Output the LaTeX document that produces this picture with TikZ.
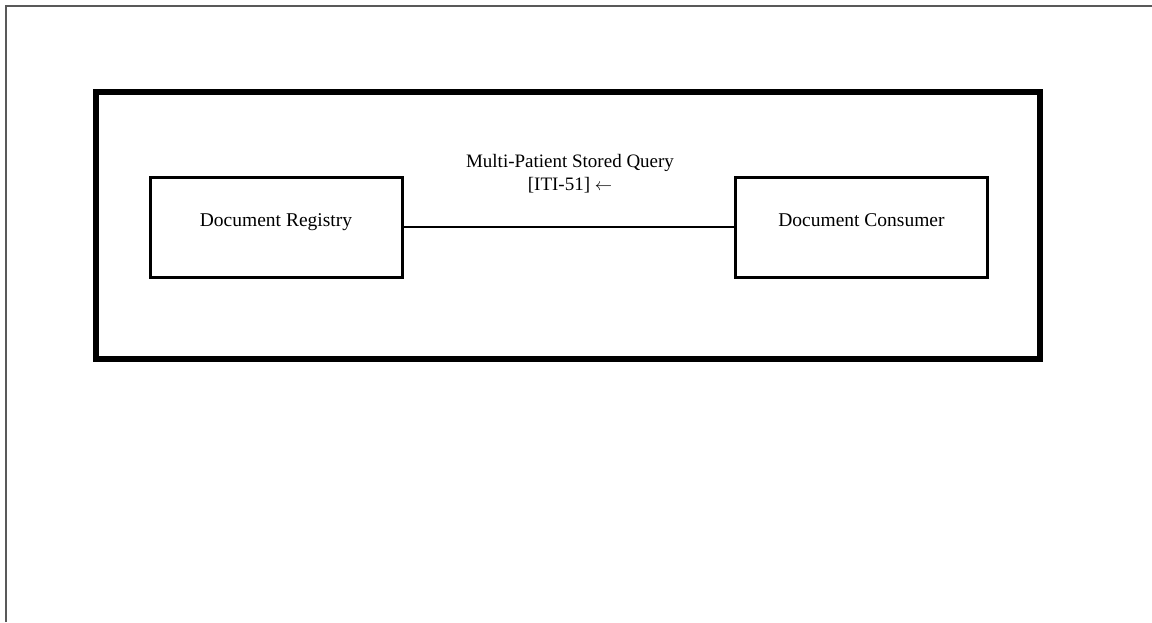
\documentclass[tikz,border=0pt]{standalone}
\usepackage{fontspec}
\setmainfont{Liberation Serif}
\begin{document}
\begin{tikzpicture}[x=1pt,y=-1pt,
  actor/.style={draw,line width=3pt,minimum width=252pt,minimum height=100pt,inner sep=0pt,text height=10pt,text depth=12pt,font=\fontsize{19.5}{23}\selectfont},
  frame/.style={draw,line width=5.5pt,inner sep=0pt},
  pageedge/.style={draw=black!65,line width=2pt},
  lbl/.style={align=center,font=\fontsize{19}{23}\selectfont}]
\useasboundingbox (0,0) rectangle (1152,622);
\coordinate (pt) at (5.5,5.5);
\coordinate (pr) at (1152,5.5);
\coordinate (pb) at (5.5,622);
\draw[pageedge] (pb) -- (pt) -- (pr);
\node[frame,minimum width=944pt,minimum height=267pt] (sys) at (568,225.5) {};
\node[actor] (reg) at (276,227) {Document Registry};
\node[actor] (con) at (861.5,227) {Document Consumer};
\draw[line width=2pt] (reg.east) -- (con.west);
\node[lbl] (q) at (570,173.5) {Multi-Patient Stored Query\\{}[ITI-51] $\leftarrow$};
\end{tikzpicture}
\end{document}
